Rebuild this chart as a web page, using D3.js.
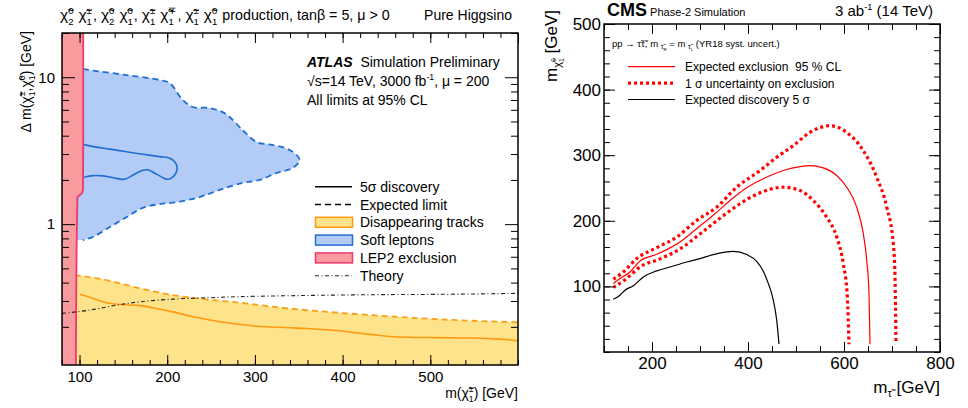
<!DOCTYPE html>
<html lang="en">
<head>
<meta charset="UTF-8">
<title>Higgsino and stau HL-LHC projections</title>
<script src="https://d3js.org/d3.v7.min.js"></script>
<style>
  body { margin: 0; background: #fff; }
  svg { font-family: "Liberation Sans", Arial, Helvetica, sans-serif; }
  text { fill: #000; white-space: pre; }
</style>
</head>
<body>
<div id="chart"></div>
<script>
// ---------- left panel: [m(chargino) GeV, delta m GeV]
const lepBound = [[104.2,20],[104.2,4],[104,1.72],[102.5,1.62],[97.6,1.53],[97,1.0],[96.3,0.4],[95.8,0.11]];
const softExpected = [[104,11.4],[115.5,11.1],[153.5,10.35],[191.5,9.57],[202.8,9.13],[217.7,7.0],[229,6.27],
  [248.4,6.17],[263.2,5.79],[271.2,5.36],[286,4.37],[302,3.62],[320,3.46],[339.6,3.2],[351,2.74],[343,2.41],
  [324.7,2.23],[305.4,2.0],[286,1.91],[259.8,1.71],[237,1.53],[210.8,1.41],[191.5,1.37],[172,1.29],[153.9,1.12],
  [134.5,0.955],[115,0.817],[103.8,0.779],[97,0.779]];
const soft5sigma = [[104.1,3.49],[115.5,3.37],[134.5,3.24],[153.5,3.11],[172.4,2.99],[191.5,2.88],[202.8,2.81],
  [208.5,2.66],[211.2,2.46],[210.5,2.27],[206.6,2.1],[200.9,2.02],[195.2,2.07],[187.7,2.19],[178.1,2.34],
  [170.6,2.31],[161,2.16],[151.6,2.02],[142.1,2.05],[126.9,2.13],[115.5,2.14],[104.1,2.08]];
const tracksExpected = [[94.6,0.45],[130.8,0.416],[168.7,0.366],[206.6,0.329],[244.6,0.308],[282.6,0.292],
  [320.5,0.274],[358.5,0.26],[396.5,0.249],[434.4,0.24],[472.4,0.232],[510.4,0.225],[548.3,0.22],[600,0.215]];
const tracks5sigma = [[100.3,0.333],[111.7,0.318],[130.8,0.292],[145.9,0.284],[168.7,0.279],[187.7,0.267],
  [206.6,0.253],[225.6,0.237],[244.6,0.225],[263.6,0.215],[282.6,0.208],[301.6,0.202],[320.5,0.1995],
  [339.5,0.197],[358.5,0.195],[377.4,0.192],[396.5,0.188],[415.5,0.182],[434.4,0.177],[453.4,0.172],
  [472.4,0.17],[510.4,0.169],[548.3,0.168],[578.7,0.165],[600,0.161]];
const theory = [[80,0.247],[111.7,0.26],[142.1,0.281],[168.7,0.296],[206.6,0.309],[244.6,0.315],[282.6,0.321],
  [358.5,0.327],[434.4,0.331],[510.4,0.333],[600,0.338]];
const leftXLabels = [100, 200, 300, 400, 500];
const leftYLabels = [1, 10];
const leftLegend = ["5σ discovery", "Expected limit", "Disappearing tracks", "Soft leptons", "LEP2 exclusion", "Theory"];

// ---------- right panel: [m(stau) GeV, m(neutralino) GeV]
const exclExpected = [[119.4,104.4],[133.3,112],[154.2,122],[175,138.8],[209.8,148.9],[230.6,156.1],[258.3,167.6],
  [293.1,188],[331.3,210.8],[369.4,235.1],[397.3,250.3],[431.9,264],[473.5,276.6],[508.3,282.7],[529.2,284.2],
  [556.9,280.7],[584.8,269],[605.6,251.2],[626.5,220.8],[640.2,180.4],[647.3,139.8],[652.1,89.2],[654.2,12]];
const exclUp = [[119.4,110.9],[140.2,122],[168.1,142.4],[209.8,159.1],[251.5,175.2],[293.1,200.6],[334.8,220.8],
  [376.5,251.2],[425,276.6],[459.8,296.8],[494.4,314.6],[529.2,334.8],[570.8,345],[605.6,334.8],[640.2,307],
  [668.1,266.4],[689,220.8],[702.7,165.2],[706.3,114.4],[708.3,12]];
const exclDown = [[119.4,98.3],[147.3,112],[175,129.6],[216.7,142],[258.3,157],[300,180],[341.7,204],[383.3,226],
  [418.1,240.5],[445.8,248],[473.5,251.2],[508.3,246.2],[536,231],[563.9,205.6],[584.8,175.2],[598.5,134.8],
  [606.9,84],[610.4,12]];
const discovery = [[119.4,80.5],[133.3,86.6],[143.8,94.2],[161,101],[181.9,114.4],[209.8,123.6],[237.5,129.6],
  [272.3,137.2],[300,142.4],[327.7,148.5],[369.4,153.5],[397.3,148.5],[418.1,138],[431.9,123],[442,105],
  [446,97],[452.7,79],[459.8,48.6],[464.6,12]];
const rightXLabels = [200, 400, 600, 800];
const rightYLabels = [100, 200, 300, 400, 500];
const rightLegend = ["Expected exclusion  95 % CL", "1 σ uncertainty on exclusion", "Expected discovery 5 σ"];

const width = 968, height = 408;
const svg = d3.select("#chart").append("svg").attr("width", width).attr("height", height);

// text with stacked super/subscripts
function rich(parent, x, y, parts, size, opt = {}) {
  const g = parent.append("g");
  const inner = g.append("g");
  let cx = 0;
  const add = (tx, xx, yy, fs) => inner.append("text").attr("xml:space", "preserve")
    .attr("x", xx).attr("y", yy).attr("font-size", fs).text(tx);
  parts.forEach(p => {
    if (typeof p === "string") p = { t: p };
    const fs = p.fs || size, dy = p.dy || 0;
    if (p.t) {
      const el = add(p.t, cx, dy, fs);
      if (p.w) el.attr("font-weight", p.w);
      if (p.i) el.attr("font-style", "italic");
      cx += el.node().getComputedTextLength();
    }
    let w = 0;
    const small = fs * 0.62;
    if (p.sup) w = Math.max(w, add(p.sup, cx, dy - fs * 0.42, small).node().getComputedTextLength());
    if (p.sub) w = Math.max(w, add(p.sub, cx, dy + fs * 0.3, small).node().getComputedTextLength());
    cx += w + (p.gap || 0);
  });
  const off = opt.anchor === "end" ? -cx : opt.anchor === "middle" ? -cx / 2 : 0;
  inner.attr("transform", `translate(${off},0)`);
  g.attr("transform", `translate(${x},${y})` + (opt.rot ? ` rotate(${opt.rot})` : ""));
  return g;
}
const chi = (sup, sub, gap = 0, fs) => ({ t: "χ̃", sup, sub, gap, fs });

function cleanAxis(g) {
  g.attr("font-family", null).attr("font-size", null);
  g.select(".domain").remove();
  g.selectAll(".tick line").attr("stroke", "#000");
}

// ================= LEFT PANEL =================
const lx = d3.scaleLinear().domain([80, 600]).range([62, 518]);
const ly = d3.scaleLog().domain([0.11, 20]).range([365, 33]);
const L = svg.append("g");
svg.append("clipPath").attr("id", "clipL").append("rect")
  .attr("x", 62).attr("y", 33).attr("width", 456).attr("height", 332);
const pl = L.append("g").attr("clip-path", "url(#clipL)");

const lineL = d3.line().x(d => lx(d[0])).y(d => ly(d[1]));
const smoothL = d3.line().x(d => lx(d[0])).y(d => ly(d[1])).curve(d3.curveCatmullRom.alpha(0.5));
const monoL = d3.line().x(d => lx(d[0])).y(d => ly(d[1])).curve(d3.curveMonotoneX);

// disappearing tracks region
pl.append("path")
  .attr("d", d3.area().x(d => lx(d[0])).y0(ly(0.11)).y1(d => ly(d[1])).curve(d3.curveMonotoneX)(tracksExpected))
  .attr("fill", "#fee38a");
// soft leptons region
pl.append("path")
  .attr("d", smoothL(softExpected) + `L${lx(85)},${ly(0.779)}L${lx(85)},${ly(11.4)}Z`)
  .attr("fill", "#b3cbf7");
// LEP2 region
pl.append("path")
  .attr("d", lineL(lepBound) + `L${lx(80)},${ly(0.11)}L${lx(80)},${ly(20)}Z`)
  .attr("fill", "#f99a9f");

pl.append("path").attr("d", monoL(tracksExpected))
  .attr("fill", "none").attr("stroke", "#f7a21b").attr("stroke-width", 1.8).attr("stroke-dasharray", "6,4");
pl.append("path").attr("d", monoL(tracks5sigma))
  .attr("fill", "none").attr("stroke", "#ff9a10").attr("stroke-width", 1.6);
pl.append("path").attr("d", smoothL(softExpected.slice(0, -1)))
  .attr("fill", "none").attr("stroke", "#1f6fd1").attr("stroke-width", 1.8).attr("stroke-dasharray", "6,4");
pl.append("path").attr("d", smoothL(soft5sigma))
  .attr("fill", "none").attr("stroke", "#1f6fd1").attr("stroke-width", 1.6);
pl.append("path").attr("d", lineL(lepBound))
  .attr("fill", "none").attr("stroke", "#f0386e").attr("stroke-width", 1.8);
pl.append("path").attr("d", smoothL(theory))
  .attr("fill", "none").attr("stroke", "#222").attr("stroke-width", 1.1).attr("stroke-dasharray", "4,2.5,1,2.5");

// axes (ticks point inward)
const lxMinor = d3.range(80, 601, 20);
const lyMinor = [0.2, 0.3, 0.4, 0.5, 0.6, 0.7, 0.8, 0.9, 2, 3, 4, 5, 6, 7, 8, 9, 20];
L.append("g").attr("transform", "translate(0,365)")
  .call(d3.axisBottom(lx).tickValues(leftXLabels).tickSize(-10).tickPadding(6).tickFormat(d3.format("d")))
  .call(cleanAxis).selectAll("text").attr("font-size", 15);
L.append("g").attr("transform", "translate(0,365)")
  .call(d3.axisBottom(lx).tickValues(lxMinor).tickSize(-5).tickFormat("")).call(cleanAxis);
L.append("g").attr("transform", "translate(0,33)")
  .call(d3.axisTop(lx).tickValues(d3.range(100, 601, 100)).tickSize(-10).tickFormat("")).call(cleanAxis);
L.append("g").attr("transform", "translate(0,33)")
  .call(d3.axisTop(lx).tickValues(lxMinor).tickSize(-5).tickFormat("")).call(cleanAxis);
L.append("g").attr("transform", "translate(62,0)")
  .call(d3.axisLeft(ly).tickValues(leftYLabels).tickSize(-13).tickPadding(7).tickFormat(d3.format("d")))
  .call(cleanAxis).selectAll("text").attr("font-size", 15);
L.append("g").attr("transform", "translate(62,0)")
  .call(d3.axisLeft(ly).tickValues(lyMinor).tickSize(-7).tickFormat("")).call(cleanAxis);
L.append("g").attr("transform", "translate(518,0)")
  .call(d3.axisRight(ly).tickValues(leftYLabels).tickSize(-13).tickFormat("")).call(cleanAxis);
L.append("g").attr("transform", "translate(518,0)")
  .call(d3.axisRight(ly).tickValues(lyMinor).tickSize(-7).tickFormat("")).call(cleanAxis);
L.append("rect").attr("x", 62).attr("y", 33).attr("width", 456).attr("height", 332)
  .attr("fill", "none").attr("stroke", "#000").attr("stroke-width", 1.5);

// left texts
rich(L, 60, 20, [chi("0", "2", 1, 15.5), " ", chi("±", "1", 1, 15.5), ", ", chi("0", "2", 1, 15.5), " ",
  chi("0", "1", 1, 15.5), ", ", chi("±", "1", 1, 15.5), " ", chi("∓", "1", 1, 15.5), ", ",
  chi("±", "1", 1, 15.5), " ", chi("0", "1", 1, 15.5), " production, tanβ = 5, μ > 0"], 14.3);
rich(L, 512, 20, ["Pure Higgsino"], 14, { anchor: "end" });
rich(L, 518, 398, ["m(", chi("±", "1"), ") [GeV]"], 14, { anchor: "end" });
rich(L, 31, 31, ["Δ m(", chi("±", "1"), ",", chi("0", "1"), ") [GeV]"], 14, { anchor: "end", rot: -90 });
rich(L, 307, 66.5, [{ t: "ATLAS", w: "bold", i: true }, "  Simulation Preliminary"], 14);
rich(L, 307, 85.5, ["√s=14 TeV, 3000 fb", { sup: "-1" }, ", μ = 200"], 14);
rich(L, 307, 104.5, ["All limits at 95% CL"], 14);

// left legend
const legL = L.append("g");
leftLegend.forEach((lab, i) => {
  const cy = 186.7 + i * 17.8;
  if (i === 0) legL.append("line").attr("x1", 315).attr("x2", 352).attr("y1", cy).attr("y2", cy)
    .attr("stroke", "#000").attr("stroke-width", 1.6);
  if (i === 1) legL.append("line").attr("x1", 315).attr("x2", 352).attr("y1", cy).attr("y2", cy)
    .attr("stroke", "#000").attr("stroke-width", 1.6).attr("stroke-dasharray", "6,4");
  if (i >= 2 && i <= 4) {
    const fills = ["#fee38a", "#b3cbf7", "#f99a9f"], strokes = ["#ff9a10", "#1f6fd1", "#f0386e"];
    legL.append("rect").attr("x", 315.5).attr("y", cy - 5).attr("width", 37).attr("height", 10)
      .attr("fill", fills[i - 2]).attr("stroke", strokes[i - 2]).attr("stroke-width", 1.5);
  }
  if (i === 5) legL.append("line").attr("x1", 315).attr("x2", 352).attr("y1", cy).attr("y2", cy)
    .attr("stroke", "#222").attr("stroke-width", 1.1).attr("stroke-dasharray", "4,2.5,1,2.5");
  rich(legL, 360, cy + 5, [lab], 14);
});

// ================= RIGHT PANEL =================
const rx = d3.scaleLinear().domain([100, 800]).range([604, 940]);
const ry = d3.scaleLinear().domain([0, 500]).range([352, 24]);
const R = svg.append("g");
const lineR = d3.line().x(d => rx(d[0])).y(d => ry(d[1])).curve(d3.curveMonotoneX);

R.append("path").attr("d", lineR(discovery)).attr("fill", "none").attr("stroke", "#000").attr("stroke-width", 1.2);
R.append("path").attr("d", lineR(exclExpected)).attr("fill", "none").attr("stroke", "#ff0000").attr("stroke-width", 1.2);
[exclUp, exclDown].forEach(c => R.append("path").attr("d", lineR(c)).attr("fill", "none")
  .attr("stroke", "#ff0000").attr("stroke-width", 3.2).attr("stroke-dasharray", "3,3"));

const rxMinor = d3.range(100, 801, 50);
const ryMinor = d3.range(0, 501, 20);
R.append("g").attr("transform", "translate(0,352)")
  .call(d3.axisBottom(rx).tickValues(rightXLabels).tickSize(-10).tickPadding(5).tickFormat(d3.format("d")))
  .call(cleanAxis).selectAll("text").attr("font-size", 17);
R.append("g").attr("transform", "translate(0,352)")
  .call(d3.axisBottom(rx).tickValues(rxMinor).tickSize(-6).tickFormat("")).call(cleanAxis);
R.append("g").attr("transform", "translate(0,24)")
  .call(d3.axisTop(rx).tickValues(rightXLabels).tickSize(-10).tickFormat("")).call(cleanAxis);
R.append("g").attr("transform", "translate(0,24)")
  .call(d3.axisTop(rx).tickValues(rxMinor).tickSize(-6).tickFormat("")).call(cleanAxis);
R.append("g").attr("transform", "translate(604,0)")
  .call(d3.axisLeft(ry).tickValues(rightYLabels).tickSize(-11).tickPadding(3).tickFormat(d3.format("d")))
  .call(cleanAxis).selectAll("text").attr("font-size", 17);
R.append("g").attr("transform", "translate(604,0)")
  .call(d3.axisLeft(ry).tickValues(ryMinor).tickSize(-6).tickFormat("")).call(cleanAxis);
R.append("g").attr("transform", "translate(940,0)")
  .call(d3.axisRight(ry).tickValues(rightYLabels).tickSize(-11).tickFormat("")).call(cleanAxis);
R.append("g").attr("transform", "translate(940,0)")
  .call(d3.axisRight(ry).tickValues(ryMinor).tickSize(-6).tickFormat("")).call(cleanAxis);
R.append("rect").attr("x", 604).attr("y", 24).attr("width", 336).attr("height", 328)
  .attr("fill", "none").attr("stroke", "#000").attr("stroke-width", 1.5);

// right texts
rich(R, 607, 16, [{ t: "CMS", w: "bold", fs: 18 }, { t: " Phase-2 Simulation", fs: 11 }], 18);
rich(R, 933, 16, ["3 ab", { sup: "-1" }, " (14 TeV)"], 15, { anchor: "end" });
rich(R, 940, 393, ["m", { t: "τ̃", fs: 11, dy: 4 }, " [GeV]"], 17, { anchor: "end" });
rich(R, 557, 10, ["m", { t: "χ̃", fs: 11, dy: 4, sup: "0", sub: "1" }, " [GeV]"], 17, { anchor: "end", rot: -90 });
rich(R, 612, 47, ["pp → τ̃τ̃, m ", { t: "τ̃", fs: 7, dy: 2, sub: "R" }, " = m ", { t: "τ̃", fs: 7, dy: 2, sub: "L" },
  " (YR18 syst. uncert.)"], 9.5);

const legR = R.append("g");
rightLegend.forEach((lab, i) => {
  const cy = 66.7 + i * 16.4;
  const ln = legR.append("line").attr("x1", 628).attr("x2", 675).attr("y1", cy).attr("y2", cy);
  if (i === 0) ln.attr("stroke", "#ff0000").attr("stroke-width", 1.2);
  if (i === 1) ln.attr("stroke", "#ff0000").attr("stroke-width", 3.2).attr("stroke-dasharray", "3,3");
  if (i === 2) ln.attr("stroke", "#000").attr("stroke-width", 1.2);
  rich(legR, 685, cy + 4.5, [lab], 12);
});
</script>
</body>
</html>
